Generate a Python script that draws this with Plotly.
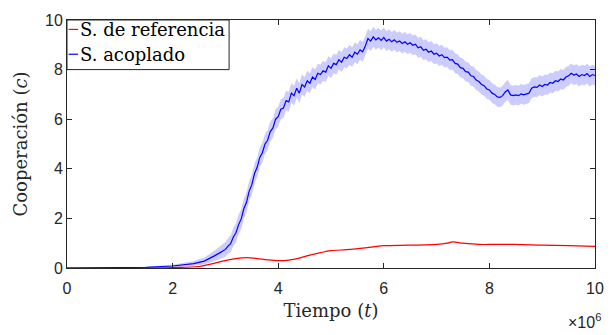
import plotly.graph_objects as go

# Time in units of 1e6
t_blue = [0.0, 0.5, 1.0, 1.5, 2.0, 2.2, 2.4, 2.6, 2.7, 2.8, 2.9] + [round(3.0 + 0.05 * i, 2) for i in range(141)]
c_blue = [0.00, 0.01, 0.03, 0.03, 0.08, 0.12, 0.18, 0.28, 0.38, 0.50, 0.62,
          0.75, 0.88, 0.98, 1.25, 1.42, 1.75, 1.98, 2.40, 2.65, 3.10,
          3.35, 3.80, 4.05, 4.45, 4.65, 5.00, 5.15, 5.50, 5.65, 6.00,
          6.10, 6.40, 6.45, 6.75, 6.70, 7.05, 6.95, 7.25, 7.05, 7.40,
          7.30, 7.55, 7.45, 7.70, 7.60, 7.85, 7.80, 7.95, 7.90, 8.15,
          8.05, 8.25, 8.20, 8.40, 8.30, 8.50, 8.45, 8.60, 8.50, 8.70,
          8.62, 8.80, 8.72, 8.95, 9.25, 9.15, 9.32, 9.20, 9.28, 9.18,
          9.30, 9.15, 9.22, 9.12, 9.20, 9.10, 9.15, 9.05, 9.12, 9.02,
          9.08, 8.98, 9.02, 8.88, 8.92, 8.78, 8.82, 8.70, 8.75, 8.62,
          8.66, 8.55, 8.60, 8.48, 8.50, 8.38, 8.40, 8.25, 8.22, 8.08,
          8.05, 7.92, 7.90, 7.75, 7.72, 7.58, 7.52, 7.40, 7.35, 7.22,
          7.18, 7.05, 7.00, 6.90, 6.88, 6.95, 7.10, 7.18, 6.98, 6.95,
          6.98, 6.95, 7.02, 6.98, 7.00, 7.05, 7.25, 7.30, 7.28, 7.38,
          7.32, 7.40, 7.38, 7.48, 7.45, 7.55, 7.52, 7.62, 7.58, 7.70,
          7.75, 7.85, 7.78, 7.82, 7.72, 7.80, 7.76, 7.84, 7.72, 7.80,
          7.76]
err_blue = [0.00, 0.01, 0.02, 0.02, 0.05, 0.07, 0.10, 0.14, 0.18, 0.22, 0.26,
            0.30, 0.32, 0.34, 0.36, 0.38, 0.40] + [0.40] * 135

t_red = [0.0, 1.0, 1.5, 2.0, 2.5, 2.8, 3.0, 3.2, 3.4, 3.6, 3.8, 4.0, 4.2, 4.4, 4.6, 4.8, 5.0,
         5.3, 5.5, 5.8, 6.0, 6.5, 7.0, 7.2, 7.3, 7.5, 7.8, 8.0, 8.5, 9.0, 9.5, 10.0]
c_red = [0.00, 0.01, 0.01, 0.02, 0.06, 0.20, 0.30, 0.38, 0.42, 0.38, 0.33, 0.30, 0.32, 0.40,
         0.52, 0.62, 0.70, 0.74, 0.78, 0.85, 0.90, 0.92, 0.95, 1.00, 1.05, 1.00, 0.95, 0.95,
         0.95, 0.92, 0.90, 0.87]

x_ticks = [0, 2, 4, 6, 8, 10]
y_ticks = [0, 2, 4, 6, 8, 10]
legend_labels = ["S. de referencia", "S. acoplado"]
x_title = "Tiempo (<i>t</i>)"
y_title = "Cooperación (<i>c</i>)"

upper = [c + e for c, e in zip(c_blue, err_blue)]
lower = [max(c - e, 0) for c, e in zip(c_blue, err_blue)]

fig = go.Figure()
fig.add_trace(go.Scatter(x=t_blue + t_blue[::-1], y=upper + lower[::-1], fill="toself",
                         fillcolor="rgba(0,0,255,0.2)", line=dict(width=0), mode="lines",
                         hoverinfo="skip", showlegend=False))
fig.add_trace(go.Scatter(x=t_red, y=c_red, mode="lines", line=dict(color="#ff0000", width=1.2),
                         name=legend_labels[0], showlegend=False, line_shape="spline"))
fig.add_trace(go.Scatter(x=t_blue, y=c_blue, mode="lines", line=dict(color="#0000ff", width=1.2),
                         name=legend_labels[1], showlegend=False))

axcol = "#262626"
tickfont = dict(family="Liberation Sans, Arial", size=16, color=axcol)
serif = "DejaVu Serif"

fig.update_xaxes(range=[0, 10], tickvals=x_ticks, ticks="inside", ticklen=5, tickcolor=axcol,
                 showline=True, linecolor=axcol, linewidth=1, mirror="ticks", showgrid=False,
                 zeroline=False, tickfont=tickfont, ticklabelstandoff=6,
                 title=dict(text=x_title, font=dict(family=serif, size=18, color=axcol), standoff=8))
fig.update_yaxes(range=[0, 10], tickvals=y_ticks, ticks="inside", ticklen=5, tickcolor=axcol,
                 showline=True, linecolor=axcol, linewidth=1, mirror="ticks", showgrid=False,
                 zeroline=False, tickfont=tickfont,
                 title=dict(text=y_title, font=dict(family=serif, size=18, color=axcol), standoff=12))

# Manual legend (MATLAB style)
shapes = [dict(type="rect", xref="paper", yref="paper", x0=0, x1=0.307, y0=0.8, y1=1,
               line=dict(color=axcol, width=1), fillcolor="white", layer="above")]
annotations = []
colors = ["#ff0000", "#0000ff"]
rows = [0.962, 0.862]
for lab, col, yy in zip(legend_labels, colors, rows):
    shapes.append(dict(type="line", xref="paper", yref="paper", x0=0.003, x1=0.021, y0=yy, y1=yy,
                       line=dict(color=col, width=1.2), layer="above"))
    annotations.append(dict(text=lab, xref="paper", yref="paper", x=0.021, y=yy, xanchor="left",
                            yanchor="middle", showarrow=False,
                            font=dict(family=serif, size=18, color="black")))
annotations.append(dict(text="×10<sup>6</sup>", xref="paper", yref="paper", x=1.015, y=-0.215,
                        xanchor="right", yanchor="middle", showarrow=False, font=tickfont))

fig.update_layout(width=616, height=335, margin=dict(l=67, r=12, t=18, b=67),
                  plot_bgcolor="white", paper_bgcolor="white", shapes=shapes,
                  annotations=annotations)
fig.write_html("out.html")
